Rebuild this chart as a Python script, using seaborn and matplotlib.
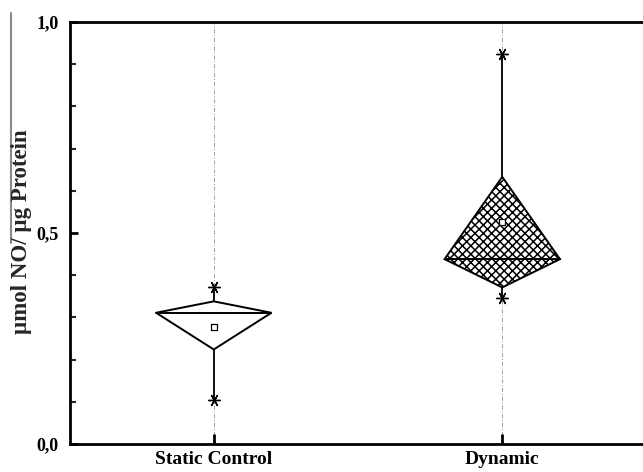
import matplotlib
matplotlib.use("Agg")
import matplotlib.pyplot as plt
from matplotlib.lines import Line2D
from matplotlib.ticker import MultipleLocator, FixedLocator
import numpy as np
import pandas as pd
import seaborn as sns

# Summary statistics per group (µmol NO / µg protein)
groups = ["Static Control", "Dynamic"]
whisker_low = [0.105, 0.345]
whisker_high = [0.373, 0.924]
box_low = [0.224, 0.371]
box_high = [0.338, 0.633]
medians = [0.311, 0.438]
means = [0.278, 0.526]
y_ticks = [0.0, 0.5, 1.0]
y_tick_labels = ["0,0", "0,5", "1,0"]

stats = pd.DataFrame({
    "group": groups,
    "pos": np.arange(1, len(groups) + 1),
    "wlo": whisker_low,
    "whi": whisker_high,
    "qlo": box_low,
    "qhi": box_high,
    "median": medians,
    "mean": means,
})

sns.set_theme(style="ticks")
plt.rcParams["font.family"] = ["Liberation Serif", "DejaVu Serif"]
plt.rcParams["hatch.linewidth"] = 1.1

fig = plt.figure(figsize=(6.43, 4.72), dpi=100)
ax = fig.add_axes([69.5 / 643, 28 / 472, 577 / 643, 422 / 472])

half_w = 0.2
hatches = [None, "xxxx"]

for i, row in stats.iterrows():
    x = row["pos"]
    # dashed guide through each group
    ax.axvline(x, color="#a0a0a0", lw=0.7, ls=(0, (4, 2, 1, 2)), zorder=0)
    # whiskers
    ax.plot([x, x], [row["wlo"], row["qlo"]], color="black", lw=1.3, zorder=2)
    ax.plot([x, x], [row["qhi"], row["whi"]], color="black", lw=1.3, zorder=2)
    # diamond: top/bottom at the box limits, side vertices at the median
    xs = [x, x + half_w, x, x - half_w]
    ys = [row["qhi"], row["median"], row["qlo"], row["median"]]
    ax.fill(xs, ys, facecolor="white", edgecolor="black", lw=1.4,
            hatch=hatches[i], zorder=3)
    ax.plot([x - half_w, x + half_w], [row["median"], row["median"]],
            color="black", lw=1.4, zorder=4)

# whisker caps
caps = pd.DataFrame({
    "pos": np.concatenate([stats["pos"], stats["pos"]]),
    "val": np.concatenate([stats["wlo"], stats["whi"]]),
})
sns.scatterplot(data=caps, x="pos", y="val", marker=(6, 2, 90), s=70,
                color="black", linewidth=1.0, ax=ax, zorder=5)
# means
sns.scatterplot(data=stats, x="pos", y="mean", marker="s", s=22,
                facecolor="white", edgecolor="black", linewidth=0.9,
                ax=ax, zorder=6)

ax.set_xlim(0.5, 2.5)
ax.set_ylim(0.0, 1.0)
ax.xaxis.set_major_locator(FixedLocator(stats["pos"]))
ax.set_xticklabels(groups, fontsize=14, fontweight="bold")
ax.yaxis.set_major_locator(FixedLocator(y_ticks))
ax.set_yticklabels(y_tick_labels, fontsize=13, fontweight="bold")
ax.yaxis.set_minor_locator(MultipleLocator(0.1))
ax.set_xlabel("")
ax.set_ylabel("")

ax.tick_params(axis="y", which="major", direction="in", length=6, width=2,
               pad=8, colors="black")
ax.tick_params(axis="y", which="minor", direction="in", length=4, width=1.5)
ax.tick_params(axis="x", which="major", direction="in", length=7, width=2,
               pad=5, colors="black")

for side in ["left", "bottom", "top"]:
    ax.spines[side].set_visible(True)
    ax.spines[side].set_linewidth(2.0)
    ax.spines[side].set_color("black")
ax.spines["right"].set_visible(False)

# y-axis label with a bar over the denominator
fig.text(22 / 643, 1 - 232 / 472, "µmol NO/ µg Protein", rotation=90,
         ha="center", va="center", fontsize=16.5, fontweight="bold")
fig.add_artist(Line2D([11 / 643, 11 / 643], [1 - 13 / 472, 1 - 243 / 472],
                      color="#8a8a8a", lw=1.5, transform=fig.transFigure))

fig.savefig("out.png", dpi=100)
